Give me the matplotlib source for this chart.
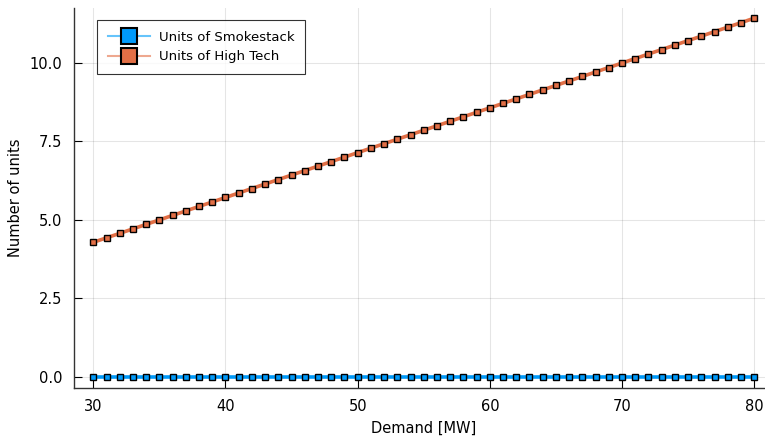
import matplotlib
matplotlib.use("Agg")
import matplotlib.pyplot as plt
from matplotlib.ticker import FixedLocator
from matplotlib.lines import Line2D

demand = [30, 31, 32, 33, 34, 35, 36, 37, 38, 39, 40, 41, 42, 43, 44, 45, 46, 47, 48, 49,
          50, 51, 52, 53, 54, 55, 56, 57, 58, 59, 60, 61, 62, 63, 64, 65, 66, 67, 68, 69,
          70, 71, 72, 73, 74, 75, 76, 77, 78, 79, 80]
smokestack = [0.0] * 51
high_tech = [4.286, 4.429, 4.571, 4.714, 4.857, 5.000, 5.143, 5.286, 5.429, 5.571,
             5.714, 5.857, 6.000, 6.143, 6.286, 6.429, 6.571, 6.714, 6.857, 7.000,
             7.143, 7.286, 7.429, 7.571, 7.714, 7.857, 8.000, 8.143, 8.286, 8.429,
             8.571, 8.714, 8.857, 9.000, 9.143, 9.286, 9.429, 9.571, 9.714, 9.857,
             10.000, 10.143, 10.286, 10.429, 10.571, 10.714, 10.857, 11.000, 11.143, 11.286,
             11.429]
series_names = ['Units of Smokestack', 'Units of High Tech']
xticks = [30, 40, 50, 60, 70, 80]
yticks = [0.0, 2.5, 5.0, 7.5, 10.0]
ytick_labels = ["0.0", "2.5", "5.0", "7.5", "10.0"]

plt.rcParams['font.family'] = ['DejaVu Sans']

W, H = 765, 441
fig = plt.figure(figsize=(W / 100, H / 100), dpi=100)
left, right, top, bottom = 73.5, 774, 7.5, 387.5
ax = fig.add_axes([left / W, 1 - bottom / H, (right - left) / W, (bottom - top) / H])

blue = '#009AFA'
orange = '#E26F46'
blue_light = '#66C4FB'
orange_light = '#EEA88F'
ax.plot(demand, smokestack, color=blue, lw=2.6, marker='s', ms=4.6, mfc=blue,
        mec='black', mew=1.0, zorder=3)
ax.plot(demand, high_tech, color=orange, lw=2.6, marker='s', ms=4.6, mfc=orange,
        mec='black', mew=1.0, zorder=3)

ax.set_xlim(28.5, 81.5)
ax.set_ylim(-0.343, 11.77)
ax.xaxis.set_major_locator(FixedLocator(xticks))
ax.set_yticks(yticks)
ax.set_yticklabels(ytick_labels)
ax.grid(True, color='black', alpha=0.1, lw=0.8)
ax.set_axisbelow(True)
for s in ['top', 'right']:
    ax.spines[s].set_visible(False)
for s in ['left', 'bottom']:
    ax.spines[s].set_linewidth(1.0)
    ax.spines[s].set_color('#333333')
ax.tick_params(direction='in', length=6, width=0.8, labelsize=10.5, colors='black', pad=8)
ax.set_xlabel('Demand [MW]', fontsize=10.5, labelpad=5)
ax.set_ylabel('Number of units', fontsize=10.5, labelpad=5)

handles = [
    Line2D([], [], color=blue_light, lw=1.5, marker='s', ms=11, mfc=blue, mec='black', mew=1.5),
    Line2D([], [], color=orange_light, lw=1.5, marker='s', ms=11, mfc=orange, mec='black', mew=1.5),
]
leg = ax.legend(handles, series_names, loc='upper left',
                bbox_to_anchor=((97 - left) / (right - left), 1 - (20 - top) / (bottom - top)),
                fontsize=9.5, frameon=True, fancybox=False, edgecolor='black',
                handlelength=3.2, borderpad=0.8, labelspacing=0.5,
                handletextpad=0.7, borderaxespad=0)
leg.get_frame().set_linewidth(0.8)

fig.savefig('out.png', dpi=100)
